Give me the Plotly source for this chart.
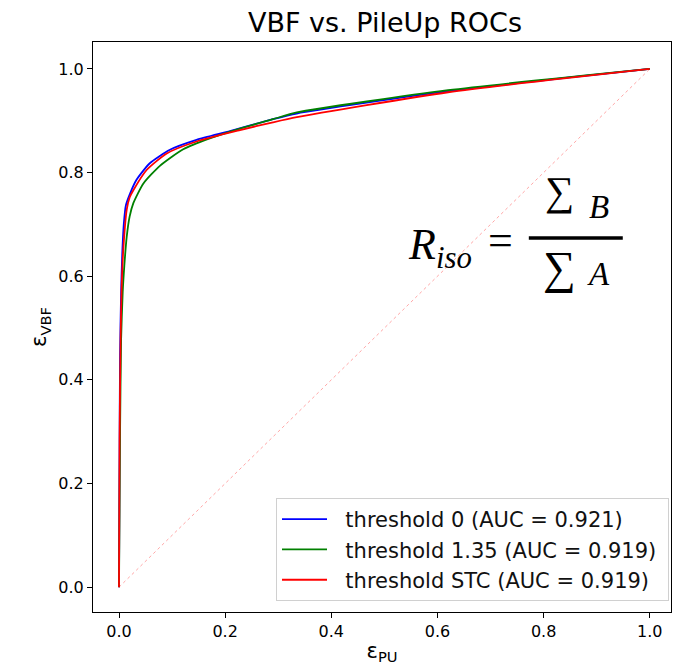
import plotly.graph_objects as go

# ROC data
fpr_t0 = [0.0, 0.001, 0.002, 0.004, 0.006, 0.009, 0.013, 0.021, 0.033, 0.058, 0.096, 0.146, 0.209, 0.29, 0.335, 0.62, 1.0]
tpr_t0 = [0.0, 0.25, 0.45, 0.57, 0.64, 0.70, 0.737, 0.760, 0.786, 0.818, 0.844, 0.863, 0.880, 0.903, 0.914, 0.957, 1.0]

fpr_t135 = [0.0, 0.002, 0.004, 0.007, 0.010, 0.0145, 0.020, 0.027, 0.046, 0.077, 0.121, 0.171, 0.228, 0.29, 0.335, 0.62, 1.0]
tpr_t135 = [0.0, 0.30, 0.48, 0.57, 0.62, 0.676, 0.715, 0.741, 0.779, 0.813, 0.845, 0.866, 0.885, 0.903, 0.916, 0.959, 1.0]

fpr_stc = [0.0, 0.001, 0.003, 0.005, 0.008, 0.0145, 0.020, 0.027, 0.052, 0.090, 0.146, 0.228, 0.29, 0.335, 0.62, 1.0]
tpr_stc = [0.0, 0.28, 0.48, 0.58, 0.65, 0.728, 0.752, 0.766, 0.805, 0.837, 0.860, 0.882, 0.897, 0.907, 0.955, 1.0]

diag = [0.0, 1.0]

names = ["threshold 0 (AUC = 0.921)", "threshold 1.35 (AUC = 0.919)", "threshold STC (AUC = 0.919)"]
colors = ["#0000ff", "#008000", "#ff0000"]
tick_vals = [0.0, 0.2, 0.4, 0.6, 0.8, 1.0]
tick_text = ["0.0", "0.2", "0.4", "0.6", "0.8", "1.0"]

fig = go.Figure()
fig.add_trace(go.Scatter(x=diag, y=diag, mode="lines", showlegend=False,
                         line=dict(color="rgba(255,0,0,0.35)", width=1, dash="dot"), hoverinfo="skip"))
for fx, ty, nm, c in [(fpr_t0, tpr_t0, names[0], colors[0]),
                      (fpr_t135, tpr_t135, names[1], colors[1]),
                      (fpr_stc, tpr_stc, names[2], colors[2])]:
    fig.add_trace(go.Scatter(x=fx, y=ty, mode="lines", name="\u00a0\u00a0" + nm + "\u00a0",
                             line=dict(color=c, width=1.8, shape="spline", smoothing=0.6)))

font = "DejaVu Sans"
serif = "Liberation Serif"

def px2x(px):
    return (px - 119) / 531.0

def py2y(py):
    return (587 - py) / 518.0

annots = [
    dict(text="<i>R</i><sub><i>iso</i></sub>", x=px2x(474), y=py2y(247), xanchor="right", yanchor="middle",
         font=dict(family=serif, size=44, color="black")),
    dict(text="=", x=px2x(501), y=py2y(240), xanchor="center", yanchor="middle",
         font=dict(family=serif, size=44, color="black")),
    dict(text="∑", x=px2x(560), y=py2y(191), xanchor="center", yanchor="middle",
         font=dict(family=serif, size=41, color="black")),
    dict(text="<i>B</i>", x=px2x(599), y=py2y(207), xanchor="center", yanchor="middle",
         font=dict(family=serif, size=33, color="black")),
    dict(text="∑", x=px2x(560), y=py2y(267), xanchor="center", yanchor="middle",
         font=dict(family=serif, size=46, color="black")),
    dict(text="<i>A</i>", x=px2x(599), y=py2y(274), xanchor="center", yanchor="middle",
         font=dict(family=serif, size=33, color="black")),
]
for a in annots:
    a.update(xref="x", yref="y", showarrow=False)

fig.update_layout(
    width=691, height=665,
    margin=dict(l=93, r=20, t=42, b=53, autoexpand=False),
    plot_bgcolor="white", paper_bgcolor="white",
    title=dict(text="VBF vs. PileUp ROCs", x=385 / 691, xanchor="center", y=1 - 23 / 665, yanchor="middle",
               font=dict(family=font, size=27, color="black")),
    xaxis=dict(range=[-0.049, 1.04], tickvals=tick_vals, ticktext=tick_text, showgrid=False, zeroline=False,
               showline=True, linecolor="black", linewidth=1, mirror=True, ticks="outside", ticklen=5,
               tickcolor="black", tickfont=dict(family=font, size=16, color="black"), automargin=False,
               title=dict(text="ε<sub>PU</sub>", font=dict(family=font, size=21, color="black"), standoff=7)),
    yaxis=dict(range=[-0.048, 1.052], tickvals=tick_vals, ticktext=tick_text, showgrid=False, zeroline=False,
               showline=True, linecolor="black", linewidth=1, mirror=True, ticks="outside", ticklen=5,
               tickcolor="black", tickfont=dict(family=font, size=16, color="black"), automargin=False,
               title=dict(text="ε<sub>VBF</sub>", font=dict(family=font, size=21, color="black"), standoff=5)),
    legend=dict(x=(669 - 93) / 578, y=(612 - 601) / 570, xanchor="right", yanchor="bottom", bgcolor="white",
                bordercolor="#d0d0d0", borderwidth=1, itemwidth=45,
                font=dict(family=font, size=21, color="#111111")),
    annotations=annots,
    shapes=[dict(type="line", xref="x", yref="y", x0=px2x(529), x1=px2x(623), y0=py2y(238), y1=py2y(238),
                 line=dict(color="black", width=3.5))],
)

fig.write_html("out.html")
